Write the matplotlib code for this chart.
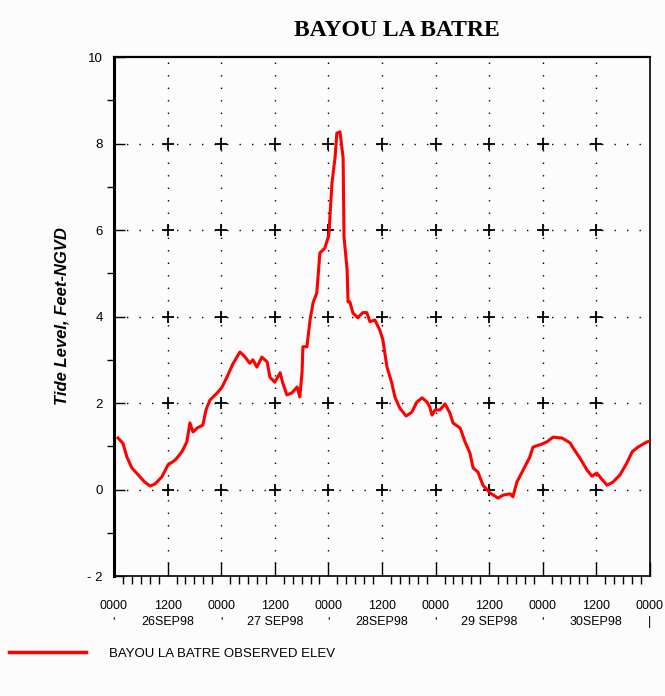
import numpy as np
import matplotlib
matplotlib.use("Agg")
import matplotlib.pyplot as plt
from matplotlib.lines import Line2D
from matplotlib.ticker import MultipleLocator

# hours since 0000 26 SEP 98 and observed water level (ft NGVD)
hours = [0.9, 2.0, 2.9, 4.0, 5.4, 6.9, 8.1, 9.2, 10.7, 12.1, 13.7, 15.2, 16.3, 17.0,
         17.7, 18.6, 19.9, 20.6, 21.5, 23.1, 24.2, 25.3, 26.6, 28.2, 29.3, 30.4, 31.1,
         32.0, 33.1, 34.3, 34.9, 36.0, 37.2, 37.8, 38.7, 39.8, 41.0, 41.6, 42.1, 42.3,
         43.2, 43.9, 44.6, 45.4, 46.1, 47.2, 48.1, 48.8, 49.5, 49.9, 50.6, 51.3, 51.5,
         52.2, 52.4, 52.8, 53.5, 54.6, 55.7, 56.6, 57.3, 58.4, 59.5, 60.2, 61.1, 62.2,
         62.9, 64.0, 65.4, 66.7, 67.8, 69.0, 70.1, 70.7, 71.2, 71.9, 73.0, 74.1, 75.2,
         75.9, 77.5, 78.6, 79.7, 80.4, 81.5, 82.6, 84.2, 86.0, 87.1, 88.7, 89.3, 90.2,
         91.6, 93.1, 93.8, 95.8, 96.9, 98.3, 100.3, 102.1, 102.8, 104.3, 105.9, 107.0,
         108.1, 109.2, 110.4, 111.7, 113.3, 114.8, 116.0, 117.3, 119.3, 120.0]
elev = [1.19, 1.07, 0.75, 0.50, 0.34, 0.17, 0.08, 0.13, 0.29, 0.57, 0.68, 0.87, 1.10, 1.54,
        1.33, 1.42, 1.49, 1.84, 2.07, 2.23, 2.37, 2.60, 2.90, 3.18, 3.07, 2.92, 3.00,
        2.83, 3.06, 2.95, 2.60, 2.48, 2.70, 2.46, 2.19, 2.23, 2.37, 2.14, 2.70, 3.30,
        3.30, 3.92, 4.33, 4.54, 5.47, 5.58, 5.88, 7.08, 7.68, 8.24, 8.27, 7.67, 5.84,
        5.08, 4.34, 4.34, 4.08, 3.97, 4.09, 4.09, 3.88, 3.92, 3.69, 3.46, 2.84, 2.46,
        2.14, 1.88, 1.70, 1.79, 2.02, 2.12, 2.02, 1.91, 1.72, 1.84, 1.84, 1.98, 1.77,
        1.54, 1.42, 1.10, 0.84, 0.50, 0.40, 0.10, -0.08, -0.20, -0.13, -0.10, -0.17, 0.17,
        0.45, 0.75, 0.98, 1.05, 1.10, 1.21, 1.19, 1.08, 0.96, 0.73, 0.45, 0.31,
        0.38, 0.24, 0.10, 0.17, 0.34, 0.61, 0.87, 0.98, 1.10, 1.12]

dates = ["26SEP98", "27 SEP98", "28SEP98", "29 SEP98", "30SEP98"]
xticklabels = []
for d in dates:
    xticklabels += ["0000\n'", "1200\n" + d]
xticklabels.append("0000\n|")
yticks = [-2, 0, 2, 4, 6, 8, 10]
yticklabels = ["- 2", "0", "2", "4", "6", "8", "10"]

plt.rcParams['font.family'] = ['Liberation Sans', 'DejaVu Sans']

fig = plt.figure(figsize=(6.65, 6.96), dpi=100, facecolor='#fcfcfc')
ax = fig.add_axes([0.1714, 0.1724, 0.806, 0.7457])
ax.set_facecolor('#fcfcfc')

ax.set_xlim(0, 120)
ax.set_ylim(-2, 10)

# dotted grid with crosses where the lines meet
grid_x = np.arange(12, 120, 12)
grid_y = np.arange(0, 10, 2)
for gx in grid_x:
    ax.axvline(gx, color='black', lw=1.0, ls=(0, (1, 8)), zorder=1)
for gy in grid_y:
    ax.axhline(gy, color='black', lw=1.0, ls=(0, (1, 8)), zorder=1)
gxx, gyy = np.meshgrid(grid_x, grid_y)
ax.plot(gxx.ravel(), gyy.ravel(), ls='none', marker='+', ms=9, mew=1.3,
        color='black', zorder=2)

ax.plot(hours, elev, color='#ff0000', lw=2.2, zorder=3)

ax.set_xticks(np.arange(0, 121, 12))
ax.set_xticklabels(xticklabels, fontsize=9, linespacing=1.45)
ax.xaxis.set_minor_locator(MultipleLocator(2))
ax.tick_params(axis='x', which='major', direction='in', length=10, width=1, pad=17)
ax.tick_params(axis='x', which='minor', direction='out', length=6, width=1)

ax.set_yticks(yticks)
ax.set_yticklabels(yticklabels, fontsize=9.5)
ax.yaxis.set_minor_locator(MultipleLocator(1))
ax.tick_params(axis='y', which='major', direction='in', length=8, width=1, pad=8)
ax.tick_params(axis='y', which='minor', direction='out', length=5, width=1)

ax.set_ylabel("Tide Level, Feet-NGVD", fontsize=12, fontweight='bold',
              fontstyle='italic', labelpad=13)

ax.spines['left'].set_linewidth(2.2)
ax.spines['top'].set_linewidth(1.6)
ax.spines['right'].set_linewidth(1.2)
ax.spines['bottom'].set_linewidth(1.2)

fig.text(397 / 665, 1 - 30 / 696, "BAYOU LA BATRE", ha='center', va='center',
         fontsize=17, fontweight='bold', family='Liberation Serif')

legend_line = Line2D([0], [0], color='#ff0000', lw=2.5)
fig.legend(handles=[legend_line], labels=["BAYOU LA BATRE OBSERVED ELEV"],
           loc='lower left', bbox_to_anchor=(-0.005, 0.035), frameon=False,
           fontsize=9.5, handlelength=5.9, handletextpad=1.7)

fig.savefig("out.png", dpi=100, facecolor=fig.get_facecolor())
